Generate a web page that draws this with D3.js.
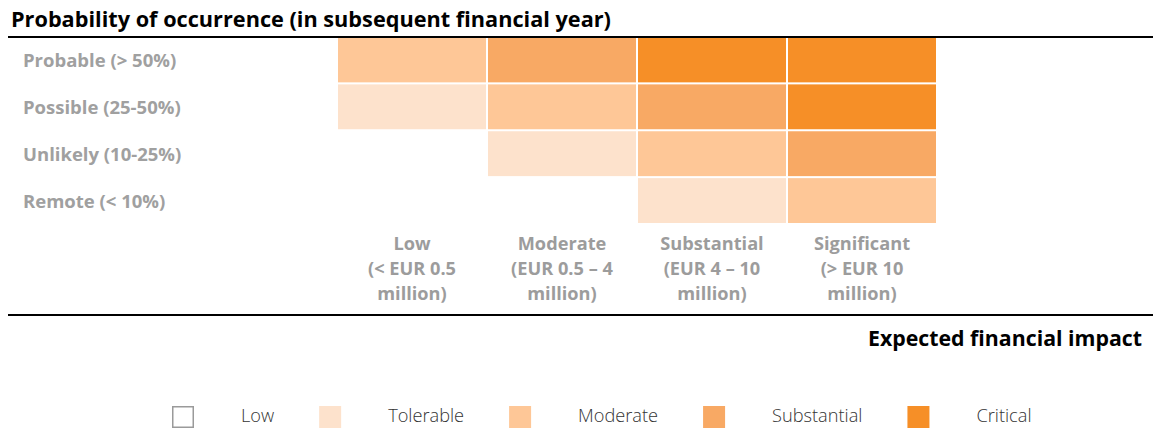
<!DOCTYPE html>
<html>
<head>
<meta charset="utf-8">
<script src="https://cdn.jsdelivr.net/npm/d3@7"></script>
<style>
  html, body { margin: 0; padding: 0; background: #fff; }
  svg { display: block; font-family: "Open Sans", sans-serif; }
</style>
</head>
<body>
<svg id="chart" width="1153" height="429"></svg>
<script>
// ---- data ----
const yTitle = "Probability of occurrence (in subsequent financial year)";
const xTitle = "Expected financial impact";
const probabilities = ["Probable (> 50%)", "Possible (25-50%)", "Unlikely (10-25%)", "Remote (< 10%)"];
const impacts = ["Low", "Moderate", "Substantial", "Significant"];
const impactLabels = [
  ["Low", "(< EUR 0.5", "million)"],
  ["Moderate", "(EUR 0.5 \u2013 4", "million)"],
  ["Substantial", "(EUR 4 \u2013 10", "million)"],
  ["Significant", "(> EUR 10", "million)"]
];
const riskLevels = ["Low", "Tolerable", "Moderate", "Substantial", "Critical"];
const levelColors = ["#ffffff", "#fde2cc", "#fec797", "#f8a964", "#f68f27"];
// risk level per row (probability) and column (impact)
const rowProbable = ["Moderate", "Substantial", "Critical", "Critical"];
const rowPossible = ["Tolerable", "Moderate", "Substantial", "Critical"];
const rowUnlikely = ["Low", "Tolerable", "Moderate", "Substantial"];
const rowRemote = ["Low", "Low", "Tolerable", "Moderate"];
const matrix = [rowProbable, rowPossible, rowUnlikely, rowRemote];

// ---- drawing ----
const svg = d3.select("#chart");
const W = 1153;

const x = d3.scaleBand().domain(impacts).range([338, 936]).paddingInner(2 / 150);
const y = d3.scaleBand().domain(probabilities).range([37.5, 223]).paddingInner(2 / 46.5);
const color = d3.scaleOrdinal().domain(riskLevels).range(levelColors);

// title
svg.append("text")
  .attr("x", 11).attr("y", 27)
  .attr("font-size", 21.7).attr("font-weight", 700).attr("fill", "#000")
  .text(yTitle);

// cells
const cells = [];
matrix.forEach((row, i) => row.forEach((lvl, j) => cells.push({ p: probabilities[i], im: impacts[j], lvl })));
svg.append("g").selectAll("rect")
  .data(cells.filter(d => d.lvl !== "Low"))
  .join("rect")
  .attr("x", d => x(d.im))
  .attr("y", d => y(d.p))
  .attr("width", x.bandwidth())
  .attr("height", y.bandwidth())
  .attr("fill", d => color(d.lvl));

// top & bottom rules
svg.append("line").attr("x1", 8).attr("x2", W).attr("y1", 37).attr("y2", 37)
  .attr("stroke", "#000").attr("stroke-width", 2.2);
svg.append("line").attr("x1", 8).attr("x2", W).attr("y1", 315).attr("y2", 315)
  .attr("stroke", "#000").attr("stroke-width", 2.2);

// row labels
svg.append("g").selectAll("text")
  .data(probabilities)
  .join("text")
  .attr("x", 23)
  .attr("y", d => y(d) + y.bandwidth() / 2 + 7)
  .attr("font-size", 18.5).attr("font-weight", 700).attr("fill", "#a0a0a0")
  .text(d => d);

// column labels
const colG = svg.append("g").selectAll("text")
  .data(impacts)
  .join("text")
  .attr("text-anchor", "middle")
  .attr("font-size", 18.2).attr("font-weight", 700).attr("fill", "#9c9c9c");
colG.selectAll("tspan")
  .data((d, i) => impactLabels[i].map(t => ({ t, c: x(d) + x.bandwidth() / 2 })))
  .join("tspan")
  .attr("x", d => d.c)
  .attr("y", (d, k) => 250 + k * 25)
  .text(d => d.t);

// x title
svg.append("text")
  .attr("x", 1142).attr("y", 346)
  .attr("text-anchor", "end")
  .attr("font-size", 21.3).attr("font-weight", 700).attr("fill", "#000")
  .text(xTitle);

// legend
const lg = svg.append("g");
let lx = 172;
riskLevels.forEach((lvl, i) => {
  const g = lg.append("g");
  g.append("rect")
    .attr("x", lx + (i === 0 ? 0.75 : 0)).attr("y", 406 + (i === 0 ? 0.75 : 0))
    .attr("width", i === 0 ? 20.5 : 22).attr("height", i === 0 ? 20.5 : 22)
    .attr("fill", color(lvl))
    .attr("stroke", i === 0 ? "#9a9a9a" : "none")
    .attr("stroke-width", 1.5);
  const t = g.append("text")
    .attr("x", lx + 69).attr("y", 422)
    .attr("font-size", 18.2).attr("font-weight", 300).attr("fill", "#333")
    .text(lvl);
  const w = t.node().getComputedTextLength();
  lx = lx + 69 + w + 45;
});
</script>
</body>
</html>
